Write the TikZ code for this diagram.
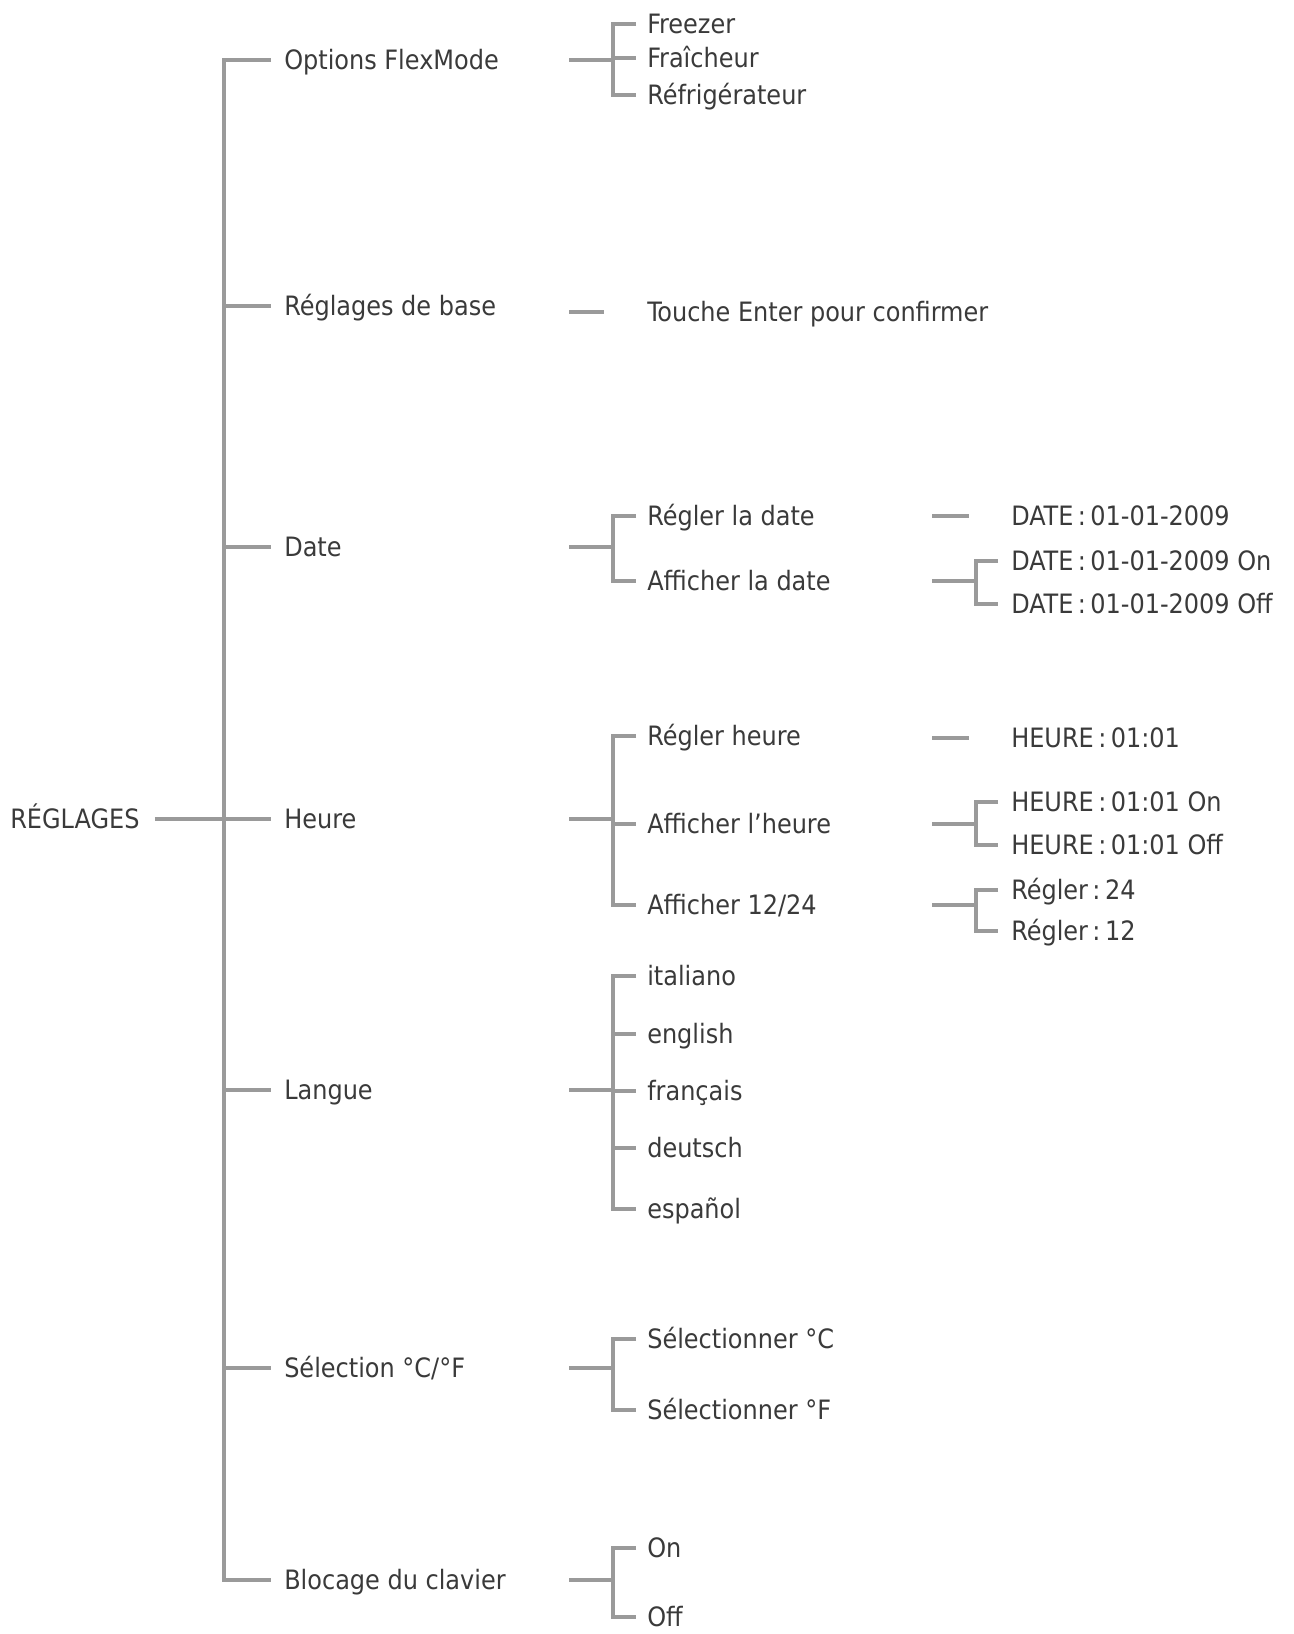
\documentclass[tikz,border=0pt]{standalone}
\usepackage{fontspec}
\setmainfont{DejaVu Sans Condensed}
\usepackage{tikz}
\usetikzlibrary{calc}
\definecolor{txtgray}{HTML}{3A3A3A}
\definecolor{linegray}{HTML}{9A9A9A}
\tikzset{
  lbl/.style={anchor=west, inner sep=0pt, text=txtgray, font=\fontsize{20}{24}\selectfont, text height=14.6pt, text depth=0pt},
  ln/.style={draw=linegray, line width=2.4pt},
}

\begin{document}
\begin{tikzpicture}[x=0.75pt, y=-0.75pt]
    \useasboundingbox (0,0) rectangle (1293,1634);
    % columns
    \coordinate (trunk) at (224,0);
    \coordinate (s1) at (569,0);
    \coordinate (b1) at (613,0);
    \coordinate (s2) at (932,0);
    \coordinate (b2) at (976,0);

    % level 0 and 1
    \node[lbl] (root) at (10,819) {RÉGLAGES};
    \node[lbl] (opt) at (284,60) {Options FlexMode};
    \node[lbl] (base) at (284,306) {Réglages de base};
    \node[lbl] (date) at (284,547) {Date};
    \node[lbl] (heure) at (284,819) {Heure};
    \node[lbl] (langue) at (284,1090) {Langue};
    \node[lbl] (sel) at (284,1368) {Sélection °C/°F};
    \node[lbl] (bloc) at (284,1580) {Blocage du clavier};

    % level 2
    \node[lbl] (freezer) at (647,24) {Freezer};
    \node[lbl] (fraich) at (647,58) {Fraîcheur};
    \node[lbl] (refrig) at (647,95) {Réfrigérateur};
    \node[lbl] (enter) at (647,312) {Touche Enter pour confirmer};
    \node[lbl] (rdate) at (647,516) {Régler la date};
    \node[lbl] (adate) at (647,581) {Afficher la date};
    \node[lbl] (rheure) at (647,736) {Régler heure};
    \node[lbl] (aheure) at (647,824) {Afficher l’heure};
    \node[lbl] (a1224) at (647,905) {Afficher 12/24};
    \node[lbl] (ita) at (647,976) {italiano};
    \node[lbl] (eng) at (647,1034) {english};
    \node[lbl] (fra) at (647,1091) {français};
    \node[lbl] (deu) at (647,1148) {deutsch};
    \node[lbl] (esp) at (647,1209) {español};
    \node[lbl] (selc) at (647,1339) {Sélectionner °C};
    \node[lbl] (self) at (647,1410) {Sélectionner °F};
    \node[lbl] (on) at (647,1548) {On};
    \node[lbl] (off) at (647,1617) {Off};

    % level 3
    \node[lbl] (dval) at (1011,516) {DATE\,:\,01-01-2009};
    \node[lbl] (don) at (1011,561) {DATE\,:\,01-01-2009 On};
    \node[lbl] (doff) at (1011,604) {DATE\,:\,01-01-2009 Off};
    \node[lbl] (hval) at (1011,738) {HEURE\,:\,01:01};
    \node[lbl] (hon) at (1011,802) {HEURE\,:\,01:01 On};
    \node[lbl] (hoff) at (1011,845) {HEURE\,:\,01:01 Off};
    \node[lbl] (r24) at (1011,890) {Régler\,:\,24};
    \node[lbl] (r12) at (1011,931) {Régler\,:\,12};

    % trunk
    \draw[ln] ([xshift=11.25pt]root.east) -- (trunk |- root.east);
    \draw[ln] ([xshift=-9.75pt]opt.west) -| (trunk |- bloc.west) -- ([xshift=-9.75pt]bloc.west);
    \foreach \n in {base,date,heure,langue,sel}
        \draw[ln] (trunk |- \n.west) -- ([xshift=-9.75pt]\n.west);

    % single stubs
    \draw[ln] (s1 |- enter.west) -- ([xshift=-32.25pt]enter.west);
    \draw[ln] (s2 |- dval.west) -- ([xshift=-31.5pt]dval.west);
    \draw[ln] (s2 |- hval.west) -- ([xshift=-31.5pt]hval.west);

    % brackets, level 2
    \foreach \p/\a/\z in {opt/freezer/refrig, date/rdate/adate, heure/rheure/a1224,
                          langue/ita/esp, sel/selc/self, bloc/on/off} {
        \draw[ln] (s1 |- \p.west) -- (b1 |- \p.west);
        \draw[ln] ([xshift=-8.25pt]\a.west) -| (b1 |- \z.west) -- ([xshift=-8.25pt]\z.west);
    }
    \foreach \c in {fraich,aheure,eng,fra,deu}
        \draw[ln] (b1 |- \c.west) -- ([xshift=-8.25pt]\c.west);

    % brackets, level 3
    \foreach \p/\a/\z in {adate/don/doff, aheure/hon/hoff, a1224/r24/r12} {
        \draw[ln] (s2 |- \p.west) -- (b2 |- \p.west);
        \draw[ln] ([xshift=-9.75pt]\a.west) -| (b2 |- \z.west) -- ([xshift=-9.75pt]\z.west);
    }
\end{tikzpicture}
\end{document}
